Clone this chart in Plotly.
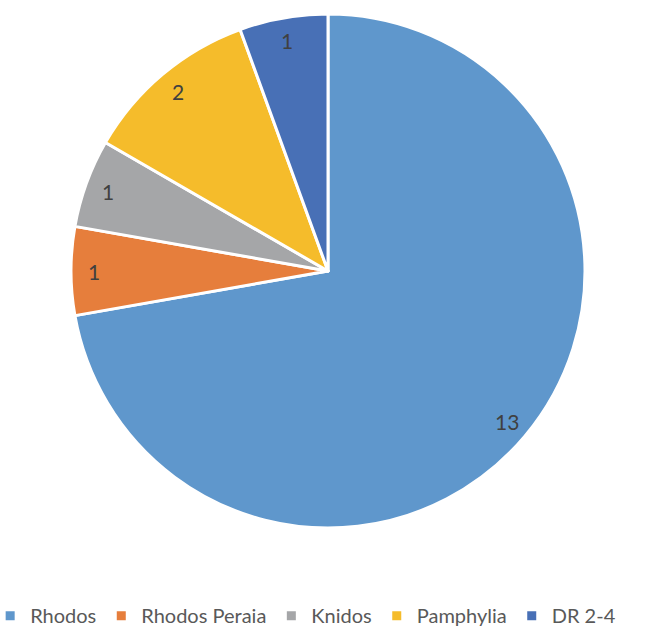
import math
import plotly.graph_objects as go

labels = ["Rhodos", "Rhodos Peraia", "Knidos", "Pamphylia", "DR 2-4"]
values = [13, 1, 1, 2, 1]
colors = ["#5f97cc", "#e67e3c", "#a5a6a8", "#f5bc2b", "#4870b6"]

W, H = 656, 632
CX, CY, R = 328, 271, 257

fig = go.Figure(go.Pie(
    labels=labels, values=values, sort=False, direction="clockwise", rotation=0,
    marker=dict(colors=colors, line=dict(color="white", width=3)),
    textinfo="none", hoverinfo="label+value",
    domain=dict(x=[(CX - R) / W, (CX + R) / W], y=[1 - (CY + R) / H, 1 - (CY - R) / H]),
))

total = sum(values)
cum = 0
for v in values:
    mid = (cum + v / 2) / total * 2 * math.pi
    cum += v
    px = CX + 0.91 * R * math.sin(mid)
    py = CY - 0.91 * R * math.cos(mid)
    fig.add_annotation(x=px / W, y=1 - py / H, xref="paper", yref="paper",
                       xanchor="center", yanchor="middle",
                       text=str(v), showarrow=False,
                       font=dict(family="Lato", size=21, color="#404040"))

fig.update_layout(
    width=W, height=H, margin=dict(l=0, r=0, t=0, b=0, autoexpand=False),
    paper_bgcolor="white", plot_bgcolor="white",
    font=dict(family="Lato", color="#595959"),
    legend=dict(orientation="h", x=-0.015, xanchor="left", y=-0.005, yanchor="bottom",
                font=dict(size=20, color="#595959"), itemwidth=30,
                tracegroupgap=0),
    showlegend=True,
)
fig.write_html("out.html")
